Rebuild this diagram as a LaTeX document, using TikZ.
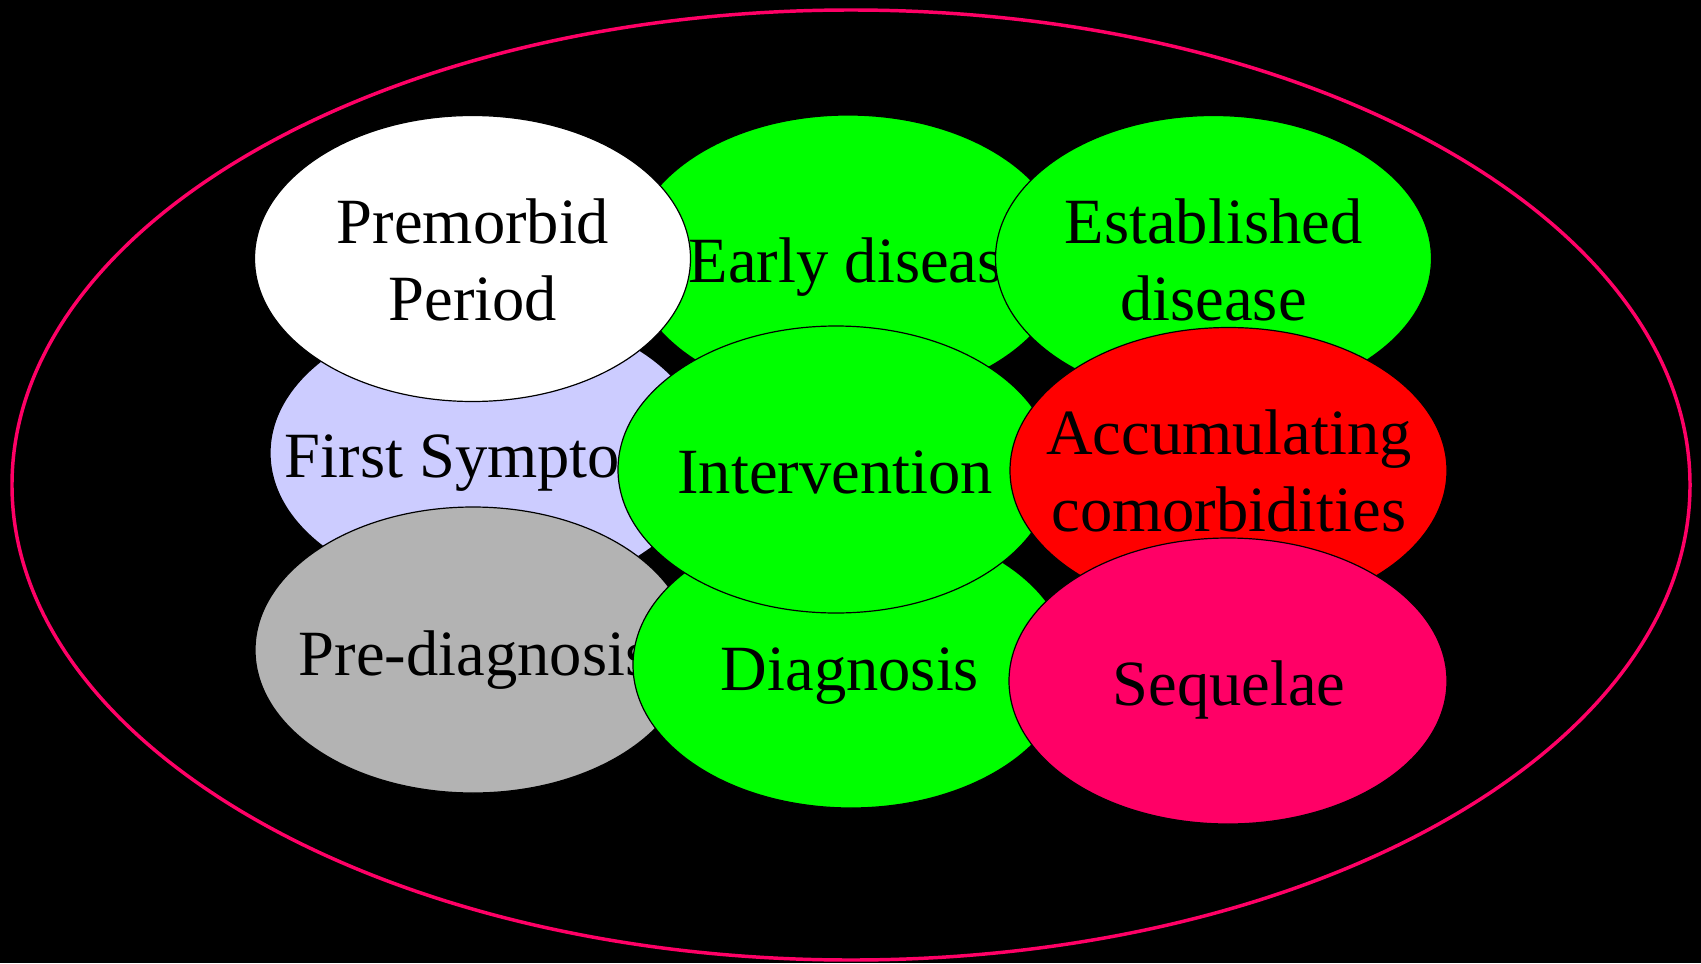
\documentclass[tikz,border=0pt]{standalone}
\usepackage{fontspec}
\setmainfont{Liberation Serif}

\begin{document}
\begin{tikzpicture}[x=0.75pt,y=0.75pt,yscale=-1,xscale=1,
        stage/.style={draw=black,line width=0.9},
        stagetext/.style={anchor=base,inner sep=0pt,align=center,text=black,font=\fontsize{48.4}{57.75}\selectfont}]
        \useasboundingbox (0,0) rectangle (1701,963);
        \fill [black] (0,0) rectangle (1701,963);
        \draw [color={rgb, 255:red, 255; green, 0; blue, 102 }, line width=2.6] (851,485) ellipse [x radius=839, y radius=475];
        % top row and left column
        \draw [stage, fill={rgb, 255:red, 0; green, 255; blue, 0 }] (848,258) ellipse [x radius=218, y radius=143];
        \node (early) [stagetext] at (860,282) {Early disease};
        \draw [stage, fill={rgb, 255:red, 204; green, 204; blue, 255 }] (488,453) ellipse [x radius=218, y radius=143];
        \node (first) [stagetext] at (490,477) {First Symptoms};
        \draw [stage, fill=white] (472.5,258.5) ellipse [x radius=218, y radius=143];
        \node (premorbid) [stagetext] at (473,320) {Premorbid\\Period};
        \draw [stage, fill={rgb, 255:red, 179; green, 179; blue, 179 }] (473,650) ellipse [x radius=218, y radius=143];
        \node (prediag) [stagetext] at (474.5,675) {Pre-diagnosis};
        % middle column
        \draw [stage, fill={rgb, 255:red, 0; green, 255; blue, 0 }] (851,665) ellipse [x radius=218, y radius=143];
        \node (diag) [stagetext] at (850,690) {Diagnosis};
        \draw [stage, fill={rgb, 255:red, 0; green, 255; blue, 0 }] (836,469.5) ellipse [x radius=218, y radius=143.5];
        \node (interv) [stagetext] at (835,493) {Intervention};
        % right column
        \draw [stage, fill={rgb, 255:red, 0; green, 255; blue, 0 }] (1213.5,258.5) ellipse [x radius=218, y radius=143];
        \node (established) [stagetext] at (1213.5,320) {Established\\disease};
        \draw [stage, fill={rgb, 255:red, 255; green, 0; blue, 0 }] (1228.5,470.5) ellipse [x radius=218.5, y radius=143];
        \node (accum) [stagetext] at (1229,531.7) {Accumulating\\comorbidities};
        \draw [stage, fill={rgb, 255:red, 255; green, 0; blue, 102 }] (1228,681) ellipse [x radius=219, y radius=143];
        \node (sequelae) [stagetext] at (1229,705) {Sequelae};
\end{tikzpicture}
\end{document}
